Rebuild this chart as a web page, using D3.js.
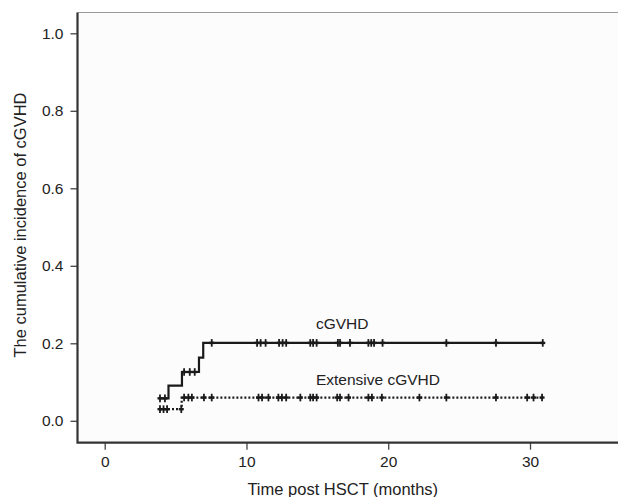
<!DOCTYPE html>
<html>
<head>
<meta charset="utf-8">
<script src="https://cdn.jsdelivr.net/npm/d3@7"></script>
<style>
  body { margin: 0; background: #fff; }
  svg { display: block; font-family: "Liberation Sans", Arial, sans-serif; }
</style>
</head>
<body>
<div id="chart"></div>
<script>
// step curves: time (months) where each level starts, and its value
var cgvhdTimes = [3.9, 4.5, 5.45, 6.65, 6.95, 30.9];
var cgvhdValues = [0.058, 0.091, 0.126, 0.163, 0.201, 0.201];
var extTimes = [3.9, 5.43, 30.9];
var extValues = [0.030, 0.060, 0.060];

// censoring marks
var cgvhdCensor = [3.9, 4.25, 5.6, 6.0, 6.35, 7.55, 10.75, 11.0, 11.35, 12.3, 12.55, 12.8,
    14.5, 14.7, 14.95, 16.45, 16.6, 17.3, 18.6, 18.8, 19.0, 19.6, 24.1, 27.6, 30.9];
var extCensor = [3.9, 4.15, 4.4, 5.4, 5.6, 5.9, 6.15, 7.0, 7.55, 10.85, 11.1, 11.55,
    12.25, 12.5, 12.8, 13.8, 14.5, 14.7, 14.95, 16.4, 16.6, 17.2, 18.6, 18.85, 19.55,
    22.2, 24.1, 27.6, 29.8, 30.25, 30.85];

var xTicks = [0, 10, 20, 30];
var yTicks = [0, 0.2, 0.4, 0.6, 0.8, 1.0];

var width = 618,
    height = 497;

var x = d3.scaleLinear().domain([0, 30]).range([104.7, 530]);
var y = d3.scaleLinear().domain([0, 1]).range([420.8, 33.3]);

var frame = { left: 77.5, top: 12.5, bottom: 442.7, right: width };

var svg = d3.select('#chart')
    .append('svg')
    .attr('width', width)
    .attr('height', height);

// plot background and top border
svg.append('rect')
    .attr('x', frame.left)
    .attr('y', frame.top)
    .attr('width', frame.right - frame.left)
    .attr('height', frame.bottom - frame.top)
    .attr('fill', '#fcfcfc');

svg.append('line')
    .attr('x1', frame.left).attr('x2', frame.right)
    .attr('y1', frame.top).attr('y2', frame.top)
    .attr('stroke', '#999').attr('stroke-width', 1.2);

// axes
var xAxis = svg.append('g')
    .attr('transform', 'translate(0,' + frame.bottom + ')')
    .call(d3.axisBottom(x).tickValues(xTicks).tickFormat(d3.format('d')).tickSize(7).tickPadding(6));

var yAxis = svg.append('g')
    .attr('transform', 'translate(' + frame.left + ',0)')
    .call(d3.axisLeft(y).tickValues(yTicks).tickFormat(d3.format('.1f')).tickSize(7).tickPadding(7));

[xAxis, yAxis].forEach(function(a) {
    a.select('.domain').remove();
    a.selectAll('.tick line').attr('stroke', '#444').attr('stroke-width', 1.3);
    a.selectAll('.tick text')
        .attr('fill', '#222')
        .style('font-size', '15.5px')
        .style('font-family', '"Liberation Sans", Arial, sans-serif');
});

svg.append('path')
    .attr('d', 'M' + frame.left + ',' + frame.top + 'V' + frame.bottom + 'H' + frame.right)
    .attr('fill', 'none')
    .attr('stroke', '#333')
    .attr('stroke-width', 2.2);

// axis titles
svg.append('text')
    .attr('x', (frame.left + frame.right) / 2 - 5)
    .attr('y', 495)
    .attr('text-anchor', 'middle')
    .attr('fill', '#222')
    .style('font-size', '16.5px')
    .text('Time post HSCT (months)');

svg.append('text')
    .attr('transform', 'translate(26,' + 225 + ') rotate(-90)')
    .attr('text-anchor', 'middle')
    .attr('fill', '#222')
    .style('font-size', '16.5px')
    .text('The cumulative incidence of cGVHD');

// curves
function stepValue(times, values, t) {
    var i = d3.bisectRight(times, t) - 1;
    return values[Math.max(0, i)];
}

var line = d3.line()
    .x(function(d) { return x(d[0]); })
    .y(function(d) { return y(d[1]); })
    .curve(d3.curveStepAfter);

function drawCurve(times, values, censor, dash) {
    var pts = d3.zip(times, values);
    svg.append('path')
        .datum(pts)
        .attr('d', line)
        .attr('fill', 'none')
        .attr('stroke', '#1a1a1a')
        .attr('stroke-width', 2.2)
        .attr('stroke-dasharray', dash);

    // censor marks drawn as small crosses
    var g = svg.append('g')
        .selectAll('g')
        .data(censor)
        .join('g')
        .attr('transform', function(d) {
            return 'translate(' + x(d) + ',' + y(stepValue(times, values, d)) + ')';
        })
        .attr('stroke', '#1a1a1a');

    g.append('line')
        .attr('y1', -3.8).attr('y2', 3.8)
        .attr('stroke-width', 1.8);
    g.append('line')
        .attr('x1', -2.5).attr('x2', 2.5)
        .attr('stroke-width', 2.4);
}

drawCurve(cgvhdTimes, cgvhdValues, cgvhdCensor, null);
drawCurve(extTimes, extValues, extCensor, '2,2');

// curve labels
svg.append('text')
    .attr('x', x(14.9))
    .attr('y', y(0.201) - 14)
    .attr('fill', '#222')
    .style('font-size', '15.5px')
    .text('cGVHD');

svg.append('text')
    .attr('x', x(14.9))
    .attr('y', y(0.201) + 42)
    .attr('fill', '#222')
    .style('font-size', '15.5px')
    .text('Extensive cGVHD');
</script>
</body>
</html>
